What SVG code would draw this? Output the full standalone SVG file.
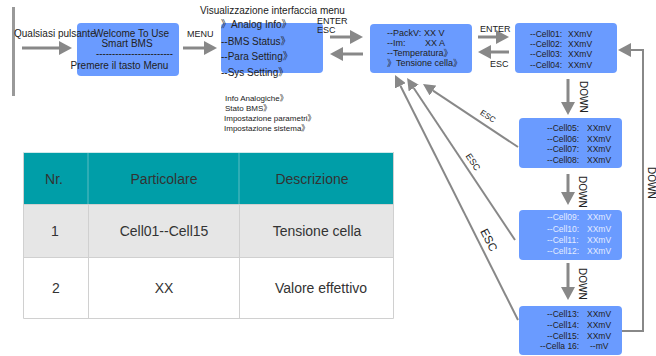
<svg xmlns="http://www.w3.org/2000/svg" width="656" height="356" viewBox="0 0 656 356">
<defs>
<style>
text{font-family:"Liberation Sans","Noto Sans CJK SC",sans-serif;fill:#222}
.box{fill:#6a9bff}
.t10{font-size:10px}
.t9{font-size:9px}
.t8{font-size:8px}
.c{font-size:8.5px}
.lt{fill:#e4ebff}
.tb{font-size:14px;fill:#333;text-anchor:middle}
.thick{stroke:#888;stroke-width:3;fill:none}
.thin{stroke:#888;stroke-width:2;fill:none}
.grid{stroke:#d0d0d0;stroke-width:1;fill:none}
</style>
<marker id="ah" markerWidth="13" markerHeight="14" refX="0" refY="7" orient="auto" markerUnits="userSpaceOnUse"><path d="M0,0 L13,7 L0,14 z" fill="#888"/></marker>
<marker id="ah2" markerWidth="12" markerHeight="12" refX="0" refY="6" orient="auto" markerUnits="userSpaceOnUse"><path d="M0,0 L12,6 L0,12 z" fill="#888"/></marker>
</defs>
<rect x="12" y="7" width="3" height="89" fill="#999"/>
<g id="welcome">
<rect class="box" x="77" y="23" width="102" height="53" rx="4"/>
<text class="t10" x="131.5" y="37" text-anchor="middle">Welcome To Use</text>
<text class="t10" x="127" y="47" text-anchor="middle">Smart BMS</text>
<text class="t10" x="96" y="57" textLength="77" lengthAdjust="spacingAndGlyphs">------------------------</text>
<text class="t10" x="119.5" y="69" text-anchor="middle">Premere il tasto Menu</text>
</g>
<g id="menu">
<text class="t10" x="200" y="14">Visualizzazione interfaccia menu</text>
<rect class="box" x="221" y="23" width="102" height="50" rx="4"/>
<text class="t10" x="221" y="28">》Analog Info》</text>
<text class="t10" x="221" y="45">--BMS Status》</text>
<text class="t10" x="221" y="60">--Para Setting》</text>
<text class="t10" x="221" y="76">--Sys Setting》</text>
<text class="t8" x="225" y="101">Info Analogiche》</text>
<text class="t8" x="225" y="111">Stato BMS》</text>
<text class="t8" x="224" y="121">Impostazione parametri》</text>
<text class="t8" x="224" y="131">Impostazione sistema》</text>
</g>
<g id="pack">
<rect class="box" x="370" y="24" width="102" height="49" rx="4"/>
<text class="t9" x="387" y="36">--PackV: <tspan x="424">XX V</tspan></text>
<text class="t9" x="387" y="46">--Im: <tspan x="425">XX A</tspan></text>
<text class="t9" x="387" y="56">--Temperatura》</text>
<text class="t9" x="387" y="66">》Tensione cella》</text>
</g>
<g id="cells1">
<rect class="box" x="515" y="23" width="102" height="50" rx="4"/>
<text class="c" x="530" y="37">--Cell01:<tspan x="568">XXmV</tspan></text>
<text class="c" x="530" y="47">--Cell02:<tspan x="568">XXmV</tspan></text>
<text class="c" x="530" y="57">--Cell03:<tspan x="568">XXmV</tspan></text>
<text class="c" x="530" y="67.5">--Cell04:<tspan x="568">XXmV</tspan></text>
</g>
<g id="cells2">
<rect class="box" x="519" y="118" width="103" height="50" rx="4"/>
<text class="c" x="547" y="131">--Cell05:<tspan x="587">XXmV</tspan></text>
<text class="c" x="547" y="142">--Cell06:<tspan x="587">XXmV</tspan></text>
<text class="c" x="547" y="152">--Cell07:<tspan x="587">XXmV</tspan></text>
<text class="c" x="547" y="163">--Cell08:<tspan x="587">XXmV</tspan></text>
</g>
<g id="cells3">
<rect class="box" x="519" y="210" width="103" height="50" rx="4"/>
<text class="c lt" x="547" y="220">--Cell09:<tspan x="587">XXmV</tspan></text>
<text class="c lt" x="547" y="232">--Cell10:<tspan x="587">XXmV</tspan></text>
<text class="c lt" x="547" y="243">--Cell11:<tspan x="587">XXmV</tspan></text>
<text class="c lt" x="547" y="254">--Cell12:<tspan x="587">XXmV</tspan></text>
</g>
<g id="cells4">
<rect class="box" x="519" y="306" width="103" height="49" rx="4"/>
<text class="c" x="547" y="317">--Cell13:<tspan x="587">XXmV</tspan></text>
<text class="c" x="547" y="328">--Cell14:<tspan x="587">XXmV</tspan></text>
<text class="c" x="547" y="339">--Cell15:<tspan x="587">XXmV</tspan></text>
<text class="c" x="540" y="349">--Cella 16:<tspan x="590">--mV</tspan></text>
</g>
<g id="table">
<rect x="23" y="152" width="370" height="52" fill="#009ea8"/>
<rect x="23" y="204" width="370" height="53" fill="#e6e6e6"/>
<rect x="23" y="257" width="370" height="61" fill="#fff"/>
<line x1="88" y1="152" x2="88" y2="204" stroke="#5cbcc2" stroke-width="1"/>
<line x1="239" y1="152" x2="239" y2="204" stroke="#5cbcc2" stroke-width="1"/>
<path class="grid" d="M23.5,152 V318.5 H393.5 V152 M23,204.5 H393 M23,257.5 H393 M88.5,204 V318 M239.5,204 V318"/>
<path d="M23,152.5 H393" stroke="#cfe9ea" stroke-width="1"/>
<text class="tb" x="54" y="184">Nr.</text>
<text class="tb" x="164" y="184">Particolare</text>
<text class="tb" x="312" y="184">Descrizione</text>
<text class="tb" x="55" y="236">1</text>
<text class="tb" x="164" y="236">Cell01--Cell15</text>
<text class="tb" x="317" y="236">Tensione cella</text>
<text class="tb" x="56" y="293">2</text>
<text class="tb" x="164" y="293">XX</text>
<text class="tb" x="321" y="293">Valore effettivo</text>
</g>
<g id="connectors">
<line class="thick" x1="22" y1="48" x2="59" y2="48" marker-end="url(#ah)"/>
<line class="thick" x1="183" y1="48" x2="204" y2="48" marker-end="url(#ah)"/>
<line class="thick" x1="330" y1="37" x2="350" y2="37" marker-end="url(#ah)"/>
<line class="thick" x1="363" y1="54" x2="343" y2="54" marker-end="url(#ah)"/>
<line class="thick" x1="478" y1="37" x2="496" y2="37" marker-end="url(#ah)"/>
<line class="thick" x1="509" y1="52" x2="491" y2="52" marker-end="url(#ah)"/>
<line class="thick" x1="568" y1="79" x2="568" y2="102" marker-end="url(#ah)"/>
<line class="thick" x1="568" y1="174" x2="568" y2="192" marker-end="url(#ah)"/>
<line class="thick" x1="568" y1="263" x2="568" y2="287" marker-end="url(#ah)"/>
<polyline class="thin" points="622,331 643,331 643,50 631,50" marker-end="url(#ah)"/>
<line class="thin" x1="518" y1="147" x2="433" y2="90.6" marker-end="url(#ah2)"/>
<line class="thin" x1="515" y1="240" x2="413.7" y2="88" marker-end="url(#ah2)"/>
<line class="thin" x1="518" y1="320" x2="400.4" y2="85.7" marker-end="url(#ah2)"/>
<text class="t10" x="14" y="37">Qualsiasi pulsante</text>
<text class="t9" x="187" y="37">MENU</text>
<text class="t9" x="317" y="24">ENTER</text>
<text class="t9" x="317" y="33">ESC</text>
<text class="t9" x="480" y="32">ENTER</text>
<text class="t9" x="490" y="67">ESC</text>
<text class="t10" transform="translate(580,81) rotate(90)">DOWN</text>
<text class="t10" transform="translate(579,176) rotate(90)">DOWN</text>
<text class="t10" transform="translate(579,268) rotate(90)">DOWN</text>
<text class="t10" transform="translate(648,167) rotate(90)">DOWN</text>
<text class="t8" text-anchor="middle" transform="translate(488,116) rotate(33)" dy="3">ESC</text>
<text class="t9" text-anchor="middle" transform="translate(473,162) rotate(56)" dy="3">ESC</text>
<text font-size="11.5" text-anchor="middle" transform="translate(489,240) rotate(63)" dy="4">ESC</text>
</g>
</svg>
